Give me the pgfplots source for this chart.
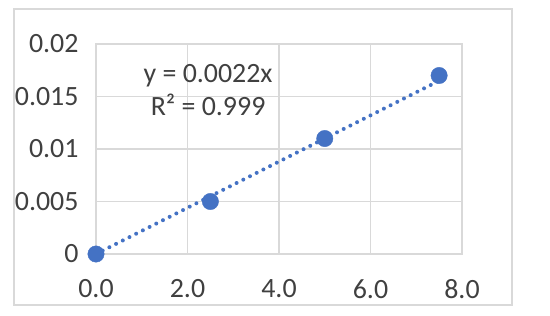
\documentclass[border=0pt]{standalone}
\usepackage{fontspec}
\setmainfont{Carlito}
\usepackage{pgfplots}
\pgfplotsset{compat=1.18}
\definecolor{xlblue}{HTML}{4472C4}
\definecolor{xlgrid}{HTML}{D9D9D9}
\definecolor{xltext}{HTML}{404040}

\begin{document}
\begin{tikzpicture}
  % full image frame: 550 x 316 bp, origin top left
  \path (0,0) rectangle (550bp,-316bp);
  \draw[xlgrid, line width=1.2bp] (14bp,-9bp) rectangle (512bp,-305bp);
  \begin{axis}[
      at={(96bp,-254bp)}, anchor=south west,
      scale only axis,
      width=366bp, height=210bp,
      xmin=0, xmax=8,
      ymin=0, ymax=0.02,
      xtick={0,2,4,6,8},
      xticklabels={0.0,2.0,4.0,6.0,8.0},
      ytick={0,0.005,0.01,0.015,0.02},
      yticklabels={0,0.005,0.01,0.015,0.02},
      scaled y ticks=false,
      major tick length=0pt,
      grid=major,
      grid style={xlgrid, line width=1.2bp},
      axis line style={xlgrid, line width=1.2bp},
      tick label style={font=\fontsize{28}{33}\selectfont, text=xltext},
      /pgf/number format/assume math mode=true,
      xticklabel style={yshift=-22bp},
      yticklabel style={xshift=-14bp},
      clip=false,
    ]
    % trendline y = 0.0022x
    \addplot[xlblue, line width=4bp, line cap=round,
      dash pattern=on 0pt off 7.5bp]
      coordinates {(0,0) (7.5,0.0165)};
    % data points
    \addplot[only marks, mark=*, mark size=8.2bp,
      mark options={fill=xlblue, draw=xlblue}]
      coordinates {(0,0) (2.5,0.005) (5,0.011) (7.5,0.017)};
    \node[text=xltext, font=\fontsize{28}{33}\selectfont]
      at (axis cs:2.45,0.01695) {y = 0.0022x};
    \node[text=xltext, font=\fontsize{28}{33}\selectfont]
      at (axis cs:2.45,0.01419) {R² = 0.999};
  \end{axis}
\end{tikzpicture}
\end{document}
